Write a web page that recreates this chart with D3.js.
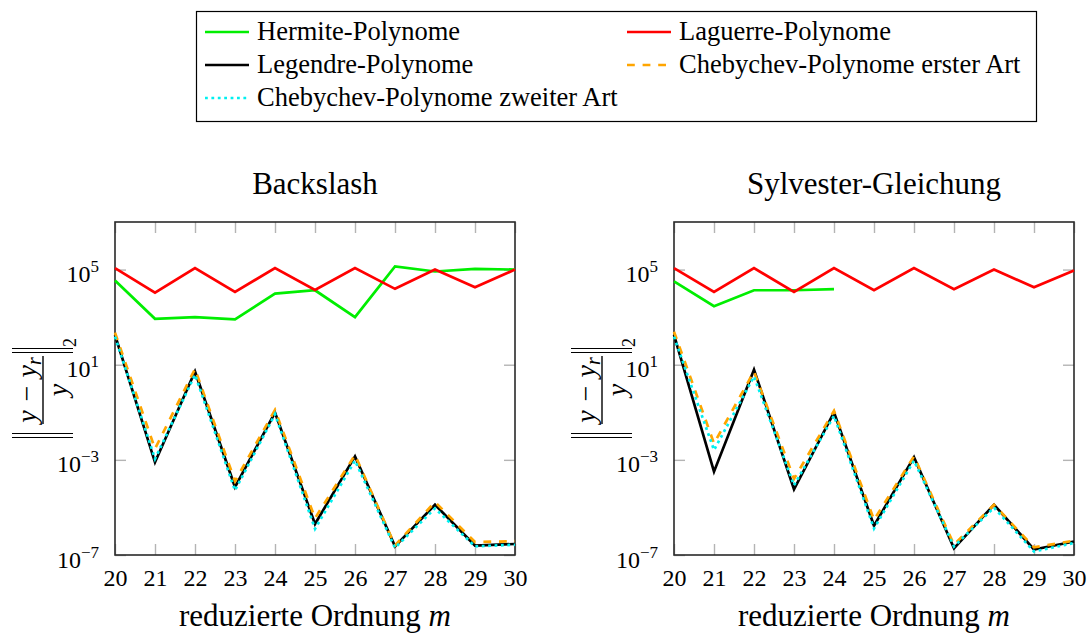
<!DOCTYPE html>
<html>
<head>
<meta charset="utf-8">
<script src="https://cdn.jsdelivr.net/npm/d3@7"></script>
<style>
  html, body { margin: 0; padding: 0; background: #fff; }
  svg { display: block; font-family: "Liberation Serif", "Times New Roman", serif; }
</style>
</head>
<body>
<svg id="chart" width="1092" height="635"></svg>
<script>
// reduced order m
const orders = [20, 21, 22, 23, 24, 25, 26, 27, 28, 29, 30];
const yTickValues = [1e-7, 1e-3, 1e1, 1e5];

// relative error ||(y - y_r)/y||_2, solved with backslash
const backslashHermite   = [3.5e4, 850, 1.0e3, 800, 9.8e3, 1.35e4, 1.0e3, 1.35e5, 8.3e4, 1.07e5, 1.0e5];
const backslashLaguerre  = [1.15e5, 1.07e4, 1.15e5, 1.15e4, 1.15e5, 1.4e4, 1.15e5, 1.55e4, 1.0e5, 1.8e4, 1.0e5];
const backslashLegendre  = [178, 7.9e-4, 5.2, 7.2e-5, 0.098, 2.0e-6, 1.4e-3, 2.3e-7, 1.3e-5, 2.5e-7, 2.9e-7];
const backslashCheb1     = [224, 2.9e-3, 6.6, 1.26e-4, 0.126, 3.5e-6, 1.6e-3, 2.5e-7, 1.7e-5, 3.5e-7, 3.8e-7];
const backslashCheb2     = [151, 1.1e-3, 3.8, 5.2e-5, 0.083, 1.26e-6, 9.3e-4, 2.0e-7, 9.1e-6, 2.3e-7, 2.7e-7];

// relative error, solved via the Sylvester equation
const sylvesterHermite   = [3.2e4, 2.9e3, 1.35e4, 1.35e4, 1.5e4];
const sylvesterLaguerre  = [1.15e5, 1.15e4, 1.15e5, 1.15e4, 1.15e5, 1.35e4, 1.15e5, 1.5e4, 1.0e5, 1.8e4, 9.1e4];
const sylvesterLegendre  = [178, 3.2e-4, 6.2, 5.8e-5, 0.1, 1.7e-6, 1.3e-3, 1.9e-7, 1.3e-5, 1.7e-7, 3.7e-7];
const sylvesterCheb1     = [245, 4.9e-3, 5.2, 1.6e-4, 0.115, 3.0e-6, 1.4e-3, 2.7e-7, 1.3e-5, 2.1e-7, 4.0e-7];
const sylvesterCheb2     = [151, 2.6e-3, 3.2, 8.5e-5, 0.071, 1.3e-6, 9.3e-4, 2.3e-7, 9.8e-6, 1.4e-7, 3.2e-7];

const seriesStyles = [
  { name: "Hermite-Polynome",                    color: "#00ee00", dash: null },
  { name: "Laguerre-Polynome",                   color: "#ff0000", dash: null },
  { name: "Legendre-Polynome",                   color: "#000000", dash: null },
  { name: "Chebychev-Polynome erster Art",       color: "#ffa500", dash: "7.8,7.8" },
  { name: "Chebychev-Polynome zweiter Art",      color: "#00f0f0", dash: "2.8,3.6" }
];

const panels = [
  { title: "Backslash", left: 115,
    data: [backslashHermite, backslashLaguerre, backslashLegendre, backslashCheb1, backslashCheb2] },
  { title: "Sylvester-Gleichung", left: 674,
    data: [sylvesterHermite, sylvesterLaguerre, sylvesterLegendre, sylvesterCheb1, sylvesterCheb2] }
];

const svg = d3.select("#chart");
const plotW = 400, plotTop = 222, plotBottom = 555;
const tickLen = 11, tickColor = "#b4b4b4";
const serif = "'Liberation Serif', 'Times New Roman', serif";

panels.forEach(p => {
  const x = d3.scaleLinear().domain([20, 30]).range([p.left, p.left + plotW]);
  const y = d3.scaleLog().domain([1e-7, 1e7]).range([plotBottom, plotTop]);
  const g = svg.append("g");

  // inward ticks on all four sides
  const styleAxis = sel => {
    sel.attr("font-family", serif);
    sel.select(".domain").remove();
    sel.selectAll(".tick line").attr("stroke", tickColor).attr("stroke-width", 1.4);
  };
  g.append("g").attr("transform", `translate(0,${plotBottom})`)
    .call(d3.axisBottom(x).tickValues(orders).tickSizeInner(-tickLen).tickSizeOuter(0).tickPadding(8).tickFormat(d3.format("d")))
    .call(styleAxis)
    .call(s => s.selectAll(".tick text").attr("font-size", 24).attr("fill", "#000").attr("dy", "0.95em"));
  g.append("g").attr("transform", `translate(0,${plotTop})`)
    .call(d3.axisTop(x).tickValues(orders).tickSizeInner(-tickLen).tickSizeOuter(0).tickFormat(""))
    .call(styleAxis);
  g.append("g").attr("transform", `translate(${p.left},0)`)
    .call(d3.axisLeft(y).tickValues(yTickValues).tickSizeInner(-tickLen).tickSizeOuter(0).tickPadding(16))
    .call(styleAxis)
    .call(s => s.selectAll(".tick text").each(function(d) {
      const t = d3.select(this).text(null)
        .attr("font-size", 24).attr("fill", "#000").attr("dy", "0.5em");
      const e = Math.round(Math.log10(d));
      t.append("tspan").text("10");
      t.append("tspan").attr("dy", -10).attr("font-size", 17).text(e < 0 ? "\u2212" + (-e) : String(e));
    }));
  g.append("g").attr("transform", `translate(${p.left + plotW},0)`)
    .call(d3.axisRight(y).tickValues(yTickValues).tickSizeInner(-tickLen).tickSizeOuter(0).tickFormat(""))
    .call(styleAxis);

  // frame
  g.append("rect").attr("x", p.left).attr("y", plotTop).attr("width", plotW).attr("height", plotBottom - plotTop)
    .attr("fill", "none").attr("stroke", "#2a2a2a").attr("stroke-width", 1.6);

  // series
  const line = d3.line().x((d, i) => x(orders[i])).y(d => y(d));
  p.data.forEach((vals, k) => {
    const st = seriesStyles[k];
    g.append("path").datum(vals).attr("d", line)
      .attr("fill", "none").attr("stroke", st.color).attr("stroke-width", 2.7)
      .attr("stroke-linejoin", "miter").attr("stroke-dasharray", st.dash);
  });

  // title and x label
  const cx = p.left + plotW / 2;
  svg.append("text").attr("x", cx).attr("y", 194).attr("text-anchor", "middle")
    .attr("font-size", 31).text(p.title);
  const xl = svg.append("text").attr("x", cx).attr("y", 626).attr("text-anchor", "middle").attr("font-size", 31);
  xl.append("tspan").text("reduzierte Ordnung ");
  xl.append("tspan").attr("font-style", "italic").text("m");

  // y label: ||(y - y_r) / y||_2, rotated
  const lab = svg.append("g").attr("transform", `translate(${p.left - 72},390) rotate(-90)`);
  lab.append("line").attr("x1", -34).attr("x2", 34).attr("y1", 0).attr("y2", 0)
    .attr("stroke", "#000").attr("stroke-width", 1.4);
  const num = lab.append("text").attr("x", 0).attr("y", -7).attr("text-anchor", "middle")
    .attr("font-size", 28).attr("font-style", "italic");
  num.append("tspan").text("y \u2212 y");
  num.append("tspan").attr("dy", 5).attr("font-size", 20).text("r");
  lab.append("text").attr("x", 0).attr("y", 24).attr("text-anchor", "middle")
    .attr("font-size", 28).attr("font-style", "italic").text("y");
  [-47.5, -43.5, 37.5, 41.5].forEach(bx => {
    lab.append("line").attr("x1", bx).attr("x2", bx).attr("y1", -31).attr("y2", 30)
      .attr("stroke", "#000").attr("stroke-width", 1.2);
  });
  lab.append("text").attr("x", 43).attr("y", 33).attr("font-size", 18).text("2");
});

// legend
const legend = svg.append("g");
legend.append("rect").attr("x", 196.5).attr("y", 11.5).attr("width", 840).attr("height", 110)
  .attr("fill", "#fff").attr("stroke", "#000").attr("stroke-width", 1.2);
const legendPos = [
  { x: 205, y: 32 }, { x: 627, y: 32 },
  { x: 205, y: 65 }, { x: 627, y: 65 },
  { x: 205, y: 98 }
];
// legend order: Hermite, Laguerre, Legendre, Chebychev I, Chebychev II
seriesStyles.forEach((st, i) => {
  const pos = legendPos[i];
  legend.append("line").attr("x1", pos.x).attr("x2", pos.x + 44).attr("y1", pos.y).attr("y2", pos.y)
    .attr("stroke", st.color).attr("stroke-width", 2.7).attr("stroke-dasharray", st.dash);
  legend.append("text").attr("x", pos.x + 52).attr("y", pos.y + 8).attr("font-size", 26.5).text(st.name);
});
</script>
</body>
</html>
